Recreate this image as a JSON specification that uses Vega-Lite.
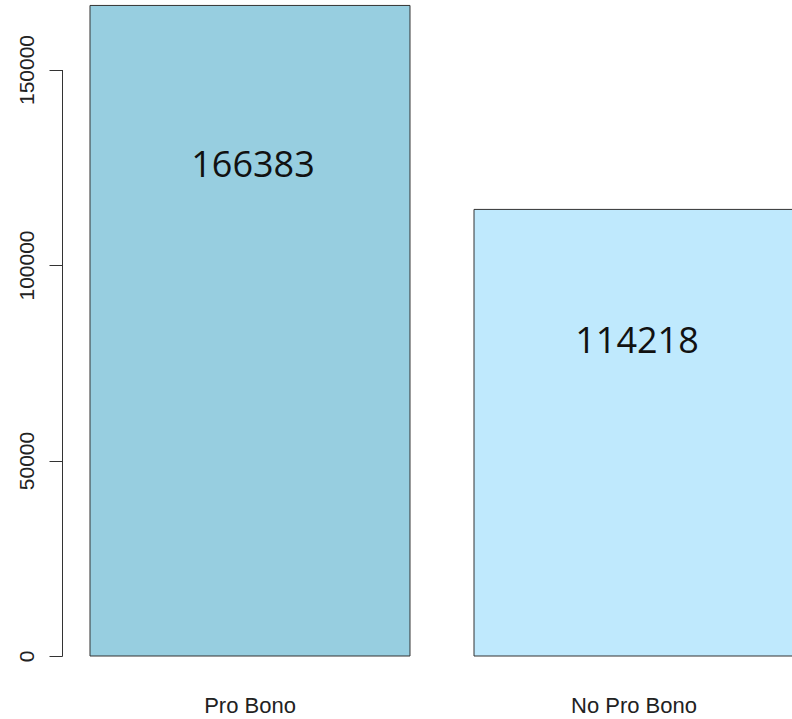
{
  "$schema": "https://vega.github.io/schema/vega-lite/v6.json",
  "width": 730,
  "height": 656,
  "autosize": {"type": "none"},
  "padding": {"left": 62, "top": 0, "right": 0, "bottom": 63},
  "background": "white",
  "config": {"view": {"stroke": null}},
  "data": {
    "values": [
      {"group": "Pro Bono", "count": 166383, "labelPos": 125000},
      {"group": "No Pro Bono", "count": 114218, "labelPos": 80000}
    ]
  },
  "encoding": {
    "x": {
      "field": "group",
      "type": "nominal",
      "sort": null,
      "scale": {"range": [0, 760], "paddingInner": 0.1667, "paddingOuter": 0.0729},
      "axis": {
        "title": null,
        "domain": false,
        "ticks": false,
        "labelAngle": 0,
        "labelPadding": 56,
        "labelBaseline": "alphabetic",
        "labelFont": "Liberation Sans",
        "labelFontSize": 22,
        "labelColor": "#222222"
      }
    }
  },
  "layer": [
    {
      "mark": {"type": "bar", "stroke": "#333333", "strokeWidth": 1},
      "encoding": {
        "y": {
          "field": "count",
          "type": "quantitative",
          "scale": {"domain": [0, 150000], "range": [656, 69.5], "nice": false, "zero": true},
          "axis": {
            "title": null,
            "values": [0, 50000, 100000, 150000],
            "format": "d",
            "grid": false,
            "domainColor": "#333333",
            "tickColor": "#333333",
            "tickSize": 13,
            "labelAngle": -90,
            "labelAlign": "center",
            "labelBaseline": "alphabetic",
            "labelPadding": 16,
            "labelFont": "Liberation Sans",
            "labelFontSize": 21,
            "labelColor": "#222222",
            "labelOverlap": false,
            "labelFlush": false
          }
        },
        "color": {
          "field": "group",
          "type": "nominal",
          "scale": {"domain": ["Pro Bono", "No Pro Bono"], "range": ["#97CEE0", "#BFE9FD"]},
          "legend": null
        }
      }
    },
    {
      "mark": {"type": "text", "font": "Open Sans", "fontSize": 36, "color": "#111111", "align": "center", "baseline": "alphabetic", "dy": 10, "dx": 3},
      "encoding": {
        "y": {"field": "labelPos", "type": "quantitative"},
        "text": {"field": "count", "type": "nominal"}
      }
    }
  ]
}
